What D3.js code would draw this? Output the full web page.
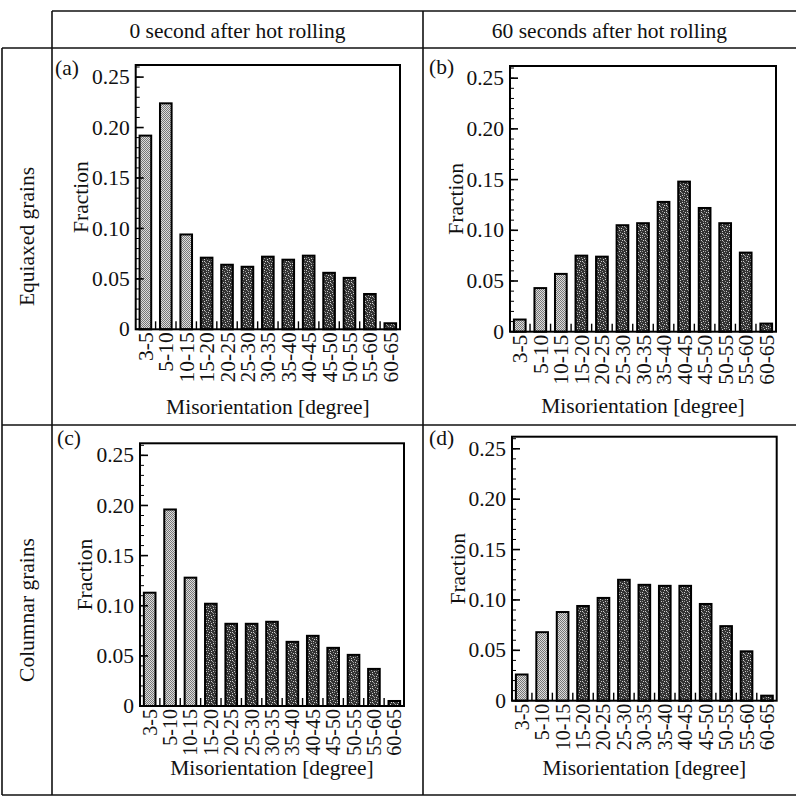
<!DOCTYPE html>
<html>
<head>
<meta charset="utf-8">
<script src="https://cdn.jsdelivr.net/npm/d3@7"></script>
<style>
  html, body { margin: 0; padding: 0; background: #fff; }
  svg { display: block; }
  text { font-family: "Liberation Serif", "Times New Roman", serif; fill: #111; }
</style>
</head>
<body>
<svg id="chart" width="796" height="797"></svg>
<script>
// ---------------- data ----------------
const categories = ["3-5","5-10","10-15","15-20","20-25","25-30","30-35","35-40","40-45","45-50","50-55","55-60","60-65"];
const lightCategories = ["3-5","5-10","10-15"];
const equiaxed0s  = [0.192, 0.224, 0.094, 0.071, 0.064, 0.062, 0.072, 0.069, 0.073, 0.056, 0.051, 0.035, 0.006];
const equiaxed60s = [0.012, 0.043, 0.057, 0.075, 0.074, 0.105, 0.107, 0.128, 0.148, 0.122, 0.107, 0.078, 0.008];
const columnar0s  = [0.113, 0.196, 0.128, 0.102, 0.082, 0.082, 0.084, 0.064, 0.070, 0.058, 0.051, 0.037, 0.005];
const columnar60s = [0.026, 0.068, 0.088, 0.094, 0.102, 0.120, 0.115, 0.114, 0.114, 0.096, 0.074, 0.049, 0.005];
const yTicks = [0, 0.05, 0.10, 0.15, 0.20, 0.25];
const yTickLabels = ["0", "0.05", "0.10", "0.15", "0.20", "0.25"];
const columnHeaders = ["0 second after hot rolling", "60 seconds after hot rolling"];
const rowHeaders = ["Equiaxed grains", "Columnar grains"];
const panelLetters = ["(a)", "(b)", "(c)", "(d)"];
const yTitle = "Fraction";
const xTitle = "Misorientation [degree]";

// ---------------- layout ----------------
const svg = d3.select("#chart");
const FS = 21.5;

// patterns
const defs = svg.append("defs");
const pl = defs.append("pattern").attr("id","light").attr("patternUnits","userSpaceOnUse")
  .attr("width",2).attr("height",2);
pl.append("rect").attr("width",2).attr("height",2).attr("fill","#dcdcdc");
pl.append("rect").attr("x",0).attr("y",0).attr("width",1).attr("height",1).attr("fill","#777");
pl.append("rect").attr("x",1).attr("y",1).attr("width",1).attr("height",1).attr("fill","#777");

const pd = defs.append("pattern").attr("id","dark").attr("patternUnits","userSpaceOnUse")
  .attr("width",7).attr("height",7);
pd.append("rect").attr("width",7).attr("height",7).attr("fill","#333");
[[1,0],[4,1],[6,2],[2,3],[5,4],[0,5],[3,6],[5,6],[1,2],[3,4]].forEach(([x,y],i)=>{
  pd.append("rect").attr("x",x).attr("y",y).attr("width",1).attr("height",1)
    .attr("fill", i%2 ? "#999" : "#d0d0d0");
});

// table grid
const L = 2, T = 11, H = 48, MID_Y = 425, B = 795, C1 = 52, C2 = 423;
const grid = svg.append("g").attr("stroke","#111").attr("stroke-width",1.6).attr("fill","none");
grid.append("line").attr("x1",C1).attr("x2",796).attr("y1",T).attr("y2",T);
grid.append("line").attr("x1",L).attr("x2",796).attr("y1",H).attr("y2",H);
grid.append("line").attr("x1",L).attr("x2",796).attr("y1",MID_Y).attr("y2",MID_Y);
grid.append("line").attr("x1",L).attr("x2",796).attr("y1",B).attr("y2",B);
grid.append("line").attr("x1",L).attr("x2",L).attr("y1",H).attr("y2",B);
grid.append("line").attr("x1",C1).attr("x2",C1).attr("y1",T).attr("y2",B);
grid.append("line").attr("x1",C2).attr("x2",C2).attr("y1",T).attr("y2",B);

svg.append("text").attr("x",(C1+C2)/2).attr("y",38).attr("text-anchor","middle")
  .attr("font-size",FS).text(columnHeaders[0]);
svg.append("text").attr("x",(C2+796)/2).attr("y",38).attr("text-anchor","middle")
  .attr("font-size",FS).text(columnHeaders[1]);
svg.append("text").attr("transform",`translate(34,${(H+MID_Y)/2}) rotate(-90)`)
  .attr("text-anchor","middle").attr("font-size",FS).text(rowHeaders[0]);
svg.append("text").attr("transform",`translate(34,${(MID_Y+B)/2}) rotate(-90)`)
  .attr("text-anchor","middle").attr("font-size",FS).text(rowHeaders[1]);

const panels = [
  {values: equiaxed0s,  x0:135.7, x1:400,   y0:65,    y1:329.3, lx:55,  ly:75,  titleY:414, yt:80},
  {values: equiaxed60s, x0:510,   x1:776,   y0:66,    y1:331.7, lx:429, ly:74,  titleY:413, yt:455},
  {values: columnar0s,  x0:140,   x1:404,   y0:443.3, y1:706,   lx:57,  ly:445, titleY:775, yt:84},
  {values: columnar60s, x0:512,   x1:776.7, y0:436.7, y1:700.7, lx:429, ly:445, titleY:775, yt:457}
];

panels.forEach((p, idx) => {
  const g = svg.append("g");
  const x = d3.scaleBand().domain(categories).range([p.x0, p.x1])
    .paddingInner(0.43).paddingOuter(0.19);
  const y = d3.scaleLinear().domain([0, 0.262]).range([p.y1, p.y0]);

  // bars
  g.selectAll("rect.bar").data(categories.map((c,i)=>({c, v:p.values[i]})))
    .join("rect").attr("class","bar")
    .attr("x", d => x(d.c)).attr("width", x.bandwidth())
    .attr("y", d => y(d.v)).attr("height", d => y(0) - y(d.v))
    .attr("fill", d => lightCategories.includes(d.c) ? "url(#light)" : "url(#dark)")
    .attr("stroke","#000").attr("stroke-width",2);

  // x minor ticks between bars
  const step = x.step();
  const bounds = categories.slice(1).map(c => x(c) - (step - x.bandwidth())/2);
  g.selectAll("line.xt").data(bounds).join("line")
    .attr("x1", d=>d).attr("x2", d=>d).attr("y1", y(0)).attr("y2", y(0)-8)
    .attr("stroke","#000").attr("stroke-width",1.4);

  // y ticks (inward)
  const minor = d3.range(0, 0.2601, 0.01);
  g.selectAll("line.ymin").data(minor).join("line")
    .attr("x1", p.x0).attr("x2", p.x0+4).attr("y1", d=>y(d)).attr("y2", d=>y(d))
    .attr("stroke","#000").attr("stroke-width",1);
  g.selectAll("line.ymaj").data(yTicks).join("line")
    .attr("x1", p.x0).attr("x2", p.x0+8).attr("y1", d=>y(d)).attr("y2", d=>y(d))
    .attr("stroke","#000").attr("stroke-width",1.6);

  // frame
  g.append("rect").attr("x",p.x0).attr("y",p.y0).attr("width",p.x1-p.x0).attr("height",p.y1-p.y0)
    .attr("fill","none").attr("stroke","#000").attr("stroke-width",2);

  // y tick labels
  g.selectAll("text.yl").data(yTicks).join("text")
    .attr("x", p.x0-6).attr("y", d=>y(d)).attr("dy","0.33em")
    .attr("text-anchor","end").attr("font-size",FS)
    .text((d,i)=>yTickLabels[i]);

  // x tick labels (rotated)
  g.selectAll("text.xl").data(categories).join("text")
    .attr("transform", d => `translate(${x(d)+x.bandwidth()/2},${y(0)+3}) rotate(-90)`)
    .attr("dy","0.35em").attr("text-anchor","end").attr("font-size", idx<2 ? FS : 20)
    .text(d=>d);

  // axis titles
  g.append("text").attr("transform",`translate(${p.yt},${(p.y0+p.y1)/2}) rotate(-90)`)
    .attr("dy","0.35em").attr("text-anchor","middle").attr("font-size",FS).text(yTitle);
  g.append("text").attr("x",(p.x0+p.x1)/2).attr("y",p.titleY)
    .attr("text-anchor","middle").attr("font-size",FS).text(xTitle);

  // panel letter
  svg.append("text").attr("x",p.lx).attr("y",p.ly).attr("font-size",FS).text(panelLetters[idx]);
});
</script>
</body>
</html>
